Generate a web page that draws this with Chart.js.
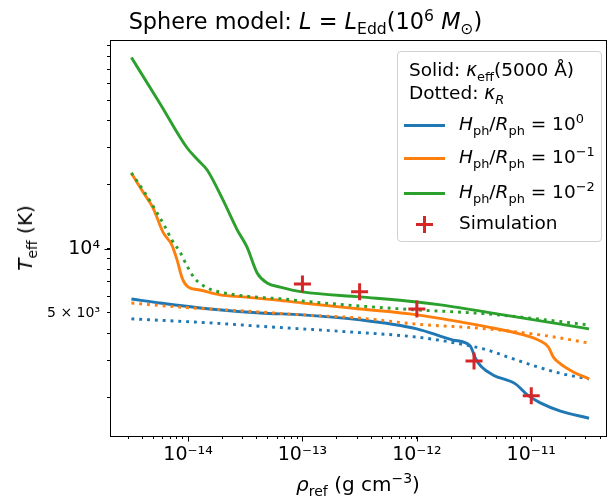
<!DOCTYPE html>
<html>
<head>
<meta charset="utf-8">
<script src="https://cdn.jsdelivr.net/npm/chart.js@4"></script>
<style>
    body { margin: 0; background: #fff; font-family: "DejaVu Sans", sans-serif; }
    #wrap { position: relative; width: 611px; height: 496px; }
    #chart { position: absolute; left: 0; top: 0; }
    .txt { position: absolute; white-space: nowrap; color: #000; line-height: 1; }
    sub, sup { font-size: 70%; line-height: 0; }
    #title { left: 0; width: 611px; top: 10px; text-align: center; font-size: 22.4px; }
    #ylab { left: 25px; top: 238px; font-size: 20px; transform: translate(-50%, -50%) rotate(-90deg); }
    #xlab { left: 358px; top: 484px; font-size: 20px; transform: translate(-50%, -50%); }
    #legend { position: absolute; left: 397px; top: 51px; width: 205px; height: 191px; box-sizing: border-box;
              border: 1px solid #d0d0d0; border-radius: 4px; background: rgba(255, 255, 255, 0.8); font-size: 18.5px; }
    #legend .row { position: absolute; left: 0; height: 0; }
    #legend .sample { position: absolute; left: 6px; width: 41px; height: 3px; top: -1.5px; }
    #legend .cross { position: absolute; left: 18px; top: -8px; width: 17px; height: 17px; }
    #legend .label { position: absolute; left: 61px; top: 0; white-space: nowrap; line-height: 1; transform: translateY(-55%); }
    #legend .head { position: absolute; left: 11px; white-space: nowrap; line-height: 1; transform: translateY(-55%); }
</style>
</head>
<body>
<div id="wrap">
    <canvas id="chart" width="611" height="496"></canvas>
    <div class="txt" id="title">Sphere model: <i>L</i> = <i>L</i><sub>Edd</sub>(10<sup>6</sup> <i>M</i><sub>⊙</sub>)</div>
    <div class="txt" id="ylab"><i>T</i><sub>eff</sub> (K)</div>
    <div class="txt" id="xlab"><i>ρ</i><sub>ref</sub> (g cm<sup>−3</sup>)</div>
    <div id="legend"></div>
</div>
<script>
// Axis limits and tick labels
const xRange = [2.08e-15, 4.5e-11];
const yRange = [1320, 96000];
const xMajorTicks = [1e-14, 1e-13, 1e-12, 1e-11];
const xMajorLabels = ["10⁻¹⁴", "10⁻¹³", "10⁻¹²", "10⁻¹¹"];
const yMajorTicks = [10000];
const yLabelledTicks = [5000, 10000];
const yTickLabels = ["5 × 10³", "10⁴"];

// H_ph/R_ph = 10^0 (blue)
const blueSolidRho = [3.2e-15, 5.69e-15, 1.56e-14, 4.27e-14, 1e-13, 3.2e-13, 1e-12, 2.08e-12, 2.93e-12, 3.24e-12, 3.67e-12, 4.66e-12, 7.26e-12, 9.25e-12, 1.2e-11, 1.8e-11, 3.2e-11];
const blueSolidT = [5820, 5570, 5220, 5000, 4900, 4640, 4210, 3730, 3500, 3070, 2790, 2550, 2320, 2060, 1890, 1730, 1600];
const blueDotRho = [3.2e-15, 1.56e-14, 5.21e-14, 2.01e-13, 1e-12, 1.96e-12, 2.93e-12, 4.13e-12, 6.97e-12, 1.13e-11, 1.91e-11, 3.2e-11];
const blueDotT = [4690, 4490, 4300, 4110, 3850, 3650, 3500, 3350, 3040, 2790, 2580, 2450];

// H_ph/R_ph = 10^-1 (orange)
const orangeSolidRho = [3.2e-15, 4.04e-15, 4.94e-15, 6.04e-15, 7.24e-15, 8.02e-15, 8.87e-15, 1e-14, 1.27e-14, 1.91e-14, 3.03e-14, 6.01e-14, 1e-13, 3.2e-13, 1e-12, 4.13e-12, 8.04e-12, 1.2e-11, 1.41e-11, 1.56e-11, 1.8e-11, 2.33e-11, 3.2e-11];
const orangeSolidT = [22700, 18500, 15600, 12000, 10400, 8880, 7310, 6630, 6410, 6080, 5950, 5750, 5570, 5220, 4900, 4300, 3980, 3690, 3460, 3100, 2880, 2640, 2450];
const orangeDotRho = [3.2e-15, 8.02e-15, 3.03e-14, 1e-13, 3.2e-13, 1e-12, 4.13e-12, 1.38e-11, 3.2e-11];
const orangeDotT = [5570, 5340, 5110, 4900, 4730, 4430, 4210, 3900, 3610];

// H_ph/R_ph = 10^-2 (green)
const greenSolidRho = [3.2e-15, 5.7e-15, 9.8e-15, 1.22e-14, 1.47e-14, 2.02e-14, 2.69e-14, 3.28e-14, 4.02e-14, 4.91e-14, 6.38e-14, 1e-13, 3.2e-13, 1e-12, 1.61e-12, 5.7e-12, 3.2e-11];
const greenSolidT = [79400, 48200, 29900, 26200, 23500, 17000, 12300, 10200, 7710, 6920, 6620, 6280, 5950, 5630, 5460, 4900, 4210];
const greenDotRho = [3.2e-15, 4.21e-15, 5.36e-15, 6.3e-15, 7.24e-15, 8.51e-15, 9.8e-15, 1.15e-14, 1.3e-14, 1.47e-14, 1.72e-14, 2.33e-14, 3.71e-14, 6.78e-14, 1e-13, 3.2e-13, 1e-12, 4.13e-12, 1.13e-11, 3.2e-11];
const greenDotT = [22800, 18300, 14800, 12700, 11000, 9680, 8320, 7230, 6840, 6560, 6350, 6140, 5950, 5820, 5690, 5390, 5170, 4950, 4690, 4390];

// Simulation points
const simRho = [1e-13, 3.16e-13, 1e-12, 3.16e-12, 1e-11];
const simT = [6840, 6290, 5220, 2970, 2040];

const seriesNames = ["10<sup>0</sup>", "10<sup>−1</sup>", "10<sup>−2</sup>"];
const seriesColors = ["#1f77b4", "#ff7f0e", "#2ca02c"];
const simColor = "#d62728";

const FONT = "DejaVu Sans";
const LW = 2.9;

function pts(xs, ys) {
    return xs.map((x, i) => ({ x: x, y: ys[i] }));
}

function logTicks(min, max) {
    let out = [];
    for (let e = Math.floor(Math.log10(min)); e <= Math.ceil(Math.log10(max)); e++) {
        for (let m = 1; m < 10; m++) {
            let v = m * Math.pow(10, e);
            if (v >= min && v <= max) out.push({ value: v });
        }
    }
    return out;
}

function labelFor(v, values, labels) {
    let i = values.findIndex(t => Math.abs(t - v) / t < 1e-6);
    return i < 0 ? "" : labels[i];
}

function line(data, color, dotted, order) {
    return {
        data: data,
        borderColor: color,
        backgroundColor: color,
        borderWidth: LW,
        borderDash: dotted ? [LW, LW * 1.7] : [],
        borderCapStyle: "butt",
        pointRadius: 0,
        fill: false,
        cubicInterpolationMode: "monotone",
        order: order
    };
}

// Box around the plot area plus longer marks for the major ticks, like matplotlib
const frame = {
    id: "frame",
    afterDraw(chart) {
        const a = chart.chartArea;
        const c = chart.ctx;
        const xs = chart.scales.x, ys = chart.scales.y;
        c.save();
        c.strokeStyle = "#000";
        c.lineWidth = 1;
        c.strokeRect(Math.round(a.left) + 0.5, Math.round(a.top) + 0.5, Math.round(a.right - a.left), Math.round(a.bottom - a.top));
        c.beginPath();
        xMajorTicks.forEach(v => {
            const px = Math.round(xs.getPixelForValue(v)) + 0.5;
            c.moveTo(px, a.bottom);
            c.lineTo(px, a.bottom + 5.5);
        });
        yMajorTicks.forEach(v => {
            const py = Math.round(ys.getPixelForValue(v)) + 0.5;
            c.moveTo(a.left, py);
            c.lineTo(a.left - 5.5, py);
        });
        c.stroke();
        c.restore();
    }
};

const ctx = document.getElementById("chart").getContext("2d");
new Chart(ctx, {
    type: "line",
    data: {
        datasets: [
            {
                type: "scatter",
                data: pts(simRho, simT),
                pointStyle: "cross",
                pointRadius: 8.5,
                borderColor: simColor,
                backgroundColor: simColor,
                borderWidth: 3,
                showLine: false,
                order: 0
            },
            line(pts(greenSolidRho, greenSolidT), seriesColors[2], false, 1),
            line(pts(greenDotRho, greenDotT), seriesColors[2], true, 2),
            line(pts(orangeSolidRho, orangeSolidT), seriesColors[1], false, 3),
            line(pts(orangeDotRho, orangeDotT), seriesColors[1], true, 4),
            line(pts(blueSolidRho, blueSolidT), seriesColors[0], false, 5),
            line(pts(blueDotRho, blueDotT), seriesColors[0], true, 6)
        ]
    },
    options: {
        responsive: false,
        animation: false,
        devicePixelRatio: 1,
        // autoPadding would reserve room for the cross markers and shrink the plot
        layout: { autoPadding: false, padding: { left: 0, right: 5, top: 40, bottom: 0 } },
        scales: {
            x: {
                type: "logarithmic",
                min: xRange[0],
                max: xRange[1],
                afterBuildTicks: scale => { scale.ticks = logTicks(xRange[0], xRange[1]); },
                afterFit: scale => {
                    scale.height = 60;
                    scale.paddingLeft = 0;
                    scale.paddingRight = 0;
                },
                ticks: {
                    autoSkip: false,
                    maxRotation: 0,
                    color: "#000",
                    padding: 5,
                    font: { family: FONT, size: 19 },
                    callback: v => labelFor(v, xMajorTicks, xMajorLabels)
                },
                grid: { drawOnChartArea: false, drawTicks: true, tickLength: 3, tickColor: "#000" },
                border: { display: false }
            },
            y: {
                type: "logarithmic",
                min: yRange[0],
                max: yRange[1],
                afterBuildTicks: scale => { scale.ticks = logTicks(yRange[0], yRange[1]); },
                afterFit: scale => {
                    scale.width = 110;
                    scale.paddingTop = 0;
                    scale.paddingBottom = 0;
                },
                ticks: {
                    autoSkip: false,
                    color: "#000",
                    padding: 7,
                    font: c => ({ family: FONT, size: c.tick && c.tick.value === 5000 ? 14 : 19 }),
                    callback: v => labelFor(v, yLabelledTicks, yTickLabels)
                },
                grid: { drawOnChartArea: false, drawTicks: true, tickLength: 3, tickColor: "#000" },
                border: { display: false }
            }
        },
        plugins: {
            legend: { display: false },
            tooltip: { enabled: false }
        }
    },
    plugins: [frame]
});

// Legend, drawn as html text so the sub/superscripts stay real text
const legend = document.getElementById("legend");
let html = '<div class="head" style="top:19px">Solid: <i>κ</i><sub>eff</sub>(5000 Å)</div>' +
           '<div class="head" style="top:42px">Dotted: <i>κ</i><sub><i>R</i></sub></div>';
const rowTops = [73, 106, 141];
seriesNames.forEach((name, i) => {
    html += '<div class="row" style="top:' + rowTops[i] + 'px">' +
            '<div class="sample" style="background:' + seriesColors[i] + '"></div>' +
            '<div class="label"><i>H</i><sub>ph</sub>/<i>R</i><sub>ph</sub> = ' + name + '</div></div>';
});
html += '<div class="row" style="top:172px">' +
        '<svg class="cross" viewBox="0 0 17 17"><path d="M8.5 0V17M0 8.5H17" stroke="' + simColor + '" stroke-width="3"/></svg>' +
        '<div class="label">Simulation</div></div>';
legend.innerHTML = html;
</script>
</body>
</html>
